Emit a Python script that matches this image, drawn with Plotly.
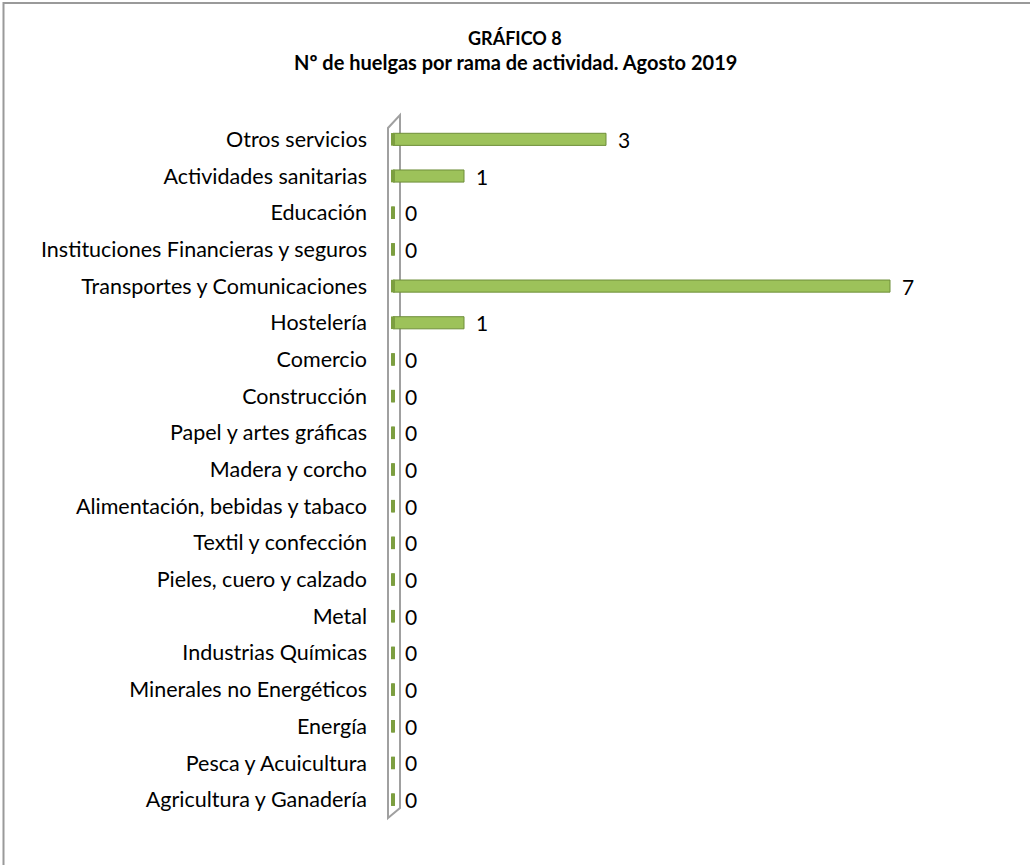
import plotly.graph_objects as go

categories = [
    "Agricultura y Ganadería",
    "Pesca y Acuicultura",
    "Energía",
    "Minerales no Energéticos",
    "Industrias Químicas",
    "Metal",
    "Pieles, cuero y calzado",
    "Textil y confección",
    "Alimentación, bebidas y tabaco",
    "Madera y corcho",
    "Papel y artes gráficas",
    "Construcción",
    "Comercio",
    "Hostelería",
    "Transportes y Comunicaciones",
    "Instituciones Financieras y seguros",
    "Educación",
    "Actividades sanitarias",
    "Otros servicios",
]
values = [0, 0, 0, 0, 0, 0, 0, 0, 0, 0, 0, 0, 0, 1, 7, 0, 0, 1, 3]

title_line1 = "GRÁFICO 8"
title_line2 = "Nº de huelgas por rama de actividad. Agosto 2019"

W, H = 1030, 865
ML, MR, MT, MB = 380, 70, 121, 47
PW, PH = W - ML - MR, H - MT - MB

def px(x):
    return (x - ML) / PW

def py(y):
    return (H - MB - y) / PH

FONT = "Lato"
GREEN = "#9DC25A"
GREEN_DARK = "#6F8F3A"

fig = go.Figure()
fig.add_trace(go.Bar(
    x=values, y=categories, orientation="h", width=0.33,
    marker=dict(color=GREEN, line=dict(color=GREEN_DARK, width=1)),
    hoverinfo="x+y",
))
fig.add_trace(go.Scatter(
    x=[0] * len(categories), y=categories, mode="markers",
    marker=dict(symbol="line-ns", size=9, color=GREEN_DARK,
                line=dict(color="#7C9E40", width=4)),
    hoverinfo="skip",
))

annotations = []
for c, v in zip(categories, values):
    annotations.append(dict(
        x=v, y=c, xref="x", yref="y", text=str(v), showarrow=False,
        xanchor="left", yanchor="middle", xshift=10,
        font=dict(family=FONT, size=21, color="#000000"),
    ))
annotations.append(dict(
    x=px(515), y=py(38), xref="paper", yref="paper", text="<b>" + title_line1 + "</b>",
    showarrow=False, xanchor="center", yanchor="middle",
    font=dict(family=FONT, size=18, color="#000000"),
))
annotations.append(dict(
    x=px(515), y=py(62), xref="paper", yref="paper", text="<b>" + title_line2 + "</b>",
    showarrow=False, xanchor="center", yanchor="middle",
    font=dict(family=FONT, size=20, color="#000000"),
))

shapes = [
    # 3D wall
    dict(type="path", xref="paper", yref="paper",
         path=f"M {px(388)},{py(818)} L {px(400)},{py(808)} L {px(400)},{py(115)} L {px(388)},{py(128)} Z",
         line=dict(color="#a0a0a0", width=2), fillcolor="rgba(255,255,255,0)", layer="below"),
    # chart border (left and top edges only)
    dict(type="path", xref="paper", yref="paper",
         path=f"M {px(3.5)},{py(870)} L {px(3.5)},{py(3)} L {px(1035)},{py(3)}",
         line=dict(color="#9a9a9a", width=2), fillcolor="rgba(0,0,0,0)"),
]

fig.update_layout(
    width=W, height=H,
    margin=dict(l=ML, r=MR, t=MT, b=MB, pad=0),
    paper_bgcolor="white", plot_bgcolor="white",
    showlegend=False,
    font=dict(family=FONT, color="#000000"),
    xaxis=dict(range=[(ML - 393) / 71.0, (W - MR - 393) / 71.0], visible=False, fixedrange=True),
    yaxis=dict(type="category", categoryorder="array", categoryarray=categories,
               range=[-0.5, len(categories) - 0.5],
               showgrid=False, zeroline=False, showline=False, ticks="",
               ticklabelstandoff=12,
               tickfont=dict(family=FONT, size=21.5, color="#000000")),
    annotations=annotations,
    shapes=shapes,
    bargap=0.6,
)

fig.write_html(
    "out.html",
    config={"displayModeBar": False},
    post_script=(
        "document.body.style.margin='0';"
        "document.body.style.overflow='hidden';"
        "document.documentElement.style.overflow='hidden';"
    ),
)
